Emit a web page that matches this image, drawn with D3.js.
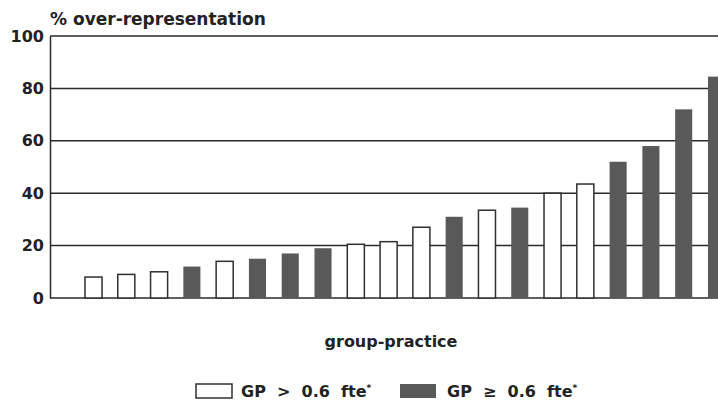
<!DOCTYPE html>
<html>
<head>
<meta charset="utf-8">
<script src="https://cdn.jsdelivr.net/npm/d3@7"></script>
<style>
  html, body { margin: 0; padding: 0; background: #fff; }
  svg { display: block; }
  text { font-family: "DejaVu Sans", sans-serif; font-weight: bold; fill: #222; }
</style>
</head>
<body>
<script>
// Over-representation per group practice, sorted ascending
const practices = d3.range(1, 21).map(String);
const overRep = [8, 9, 10, 12, 14, 15, 17, 19, 20.5, 21.5, 27, 31, 33.5, 34.5, 40, 43.5, 52, 58, 72, 84.5];
// "small" = GP > 0.6 fte (open bars), "large" = GP ≥ 0.6 fte (filled bars)
const gpClass = ["small", "small", "small", "large", "small", "large", "large", "large",
                 "small", "small", "small", "large", "small", "large", "small", "small",
                 "large", "large", "large", "large"];
const yTicks = [0, 20, 40, 60, 80, 100];
const yTitle = "% over-representation";
const xTitle = "group-practice";
const legendLabels = { small: "GP  >  0.6  fte", large: "GP  \u2265  0.6  fte" };

const W = 718, H = 401;
const plotLeft = 50, plotTop = 36, plotBottom = 298;

const svg = d3.select("body").append("svg").attr("width", W).attr("height", H);

const y = d3.scaleLinear().domain([0, 100]).range([plotBottom, plotTop]);
const x = d3.scaleBand().domain(practices)
  .range([plotLeft, 760]).paddingInner(0.48).paddingOuter(1.067);

const fill = { small: "#ffffff", large: "#595959" };

// horizontal grid lines
svg.append("g").selectAll("line").data(yTicks).join("line")
  .attr("x1", plotLeft).attr("x2", W)
  .attr("y1", d => y(d)).attr("y2", d => y(d))
  .attr("stroke", "#2a2a2a").attr("stroke-width", 1.5);

// y axis labels
const yAxis = d3.axisLeft(y).tickValues(yTicks).tickSize(0).tickPadding(6);
const gy = svg.append("g").attr("transform", `translate(${plotLeft},0)`).call(yAxis);
gy.select(".domain").attr("stroke", "#2a2a2a").attr("stroke-width", 1.5);
gy.selectAll("text").style("font-size", "16px").style("font-family", "DejaVu Sans")
  .style("font-weight", "bold").attr("fill", "#222");

// bars
const rows = practices.map((p, i) => ({ p, v: overRep[i], c: gpClass[i] }));
svg.append("g").selectAll("rect").data(rows).join("rect")
  .attr("x", d => x(d.p))
  .attr("y", d => y(d.v))
  .attr("width", x.bandwidth())
  .attr("height", d => y(0) - y(d.v))
  .attr("fill", d => fill[d.c])
  .attr("stroke", d => d.c === "small" ? "#2f2f2f" : "none")
  .attr("stroke-width", 1.5);

// titles
svg.append("text").attr("x", plotLeft).attr("y", 25)
  .style("font-size", "17px").text(yTitle);
svg.append("text").attr("x", 391).attr("y", 347).attr("text-anchor", "middle")
  .style("font-size", "16px").text(xTitle);

// legend
const legend = svg.append("g");
const items = [
  { key: "small", bx: 196, tx: 241 },
  { key: "large", bx: 400, tx: 447 }
];
items.forEach(it => {
  legend.append("rect").attr("x", it.bx).attr("y", 384).attr("width", 36).attr("height", 14)
    .attr("fill", fill[it.key])
    .attr("stroke", it.key === "small" ? "#2f2f2f" : "none").attr("stroke-width", 1.5);
  const t = legend.append("text").attr("x", it.tx).attr("y", 397).style("font-size", "16px")
    .attr("xml:space", "preserve").style("white-space", "pre");
  t.append("tspan").text(legendLabels[it.key]);
  t.append("tspan").attr("dy", -6).style("font-size", "9px").text("*");
});
</script>
</body>
</html>
